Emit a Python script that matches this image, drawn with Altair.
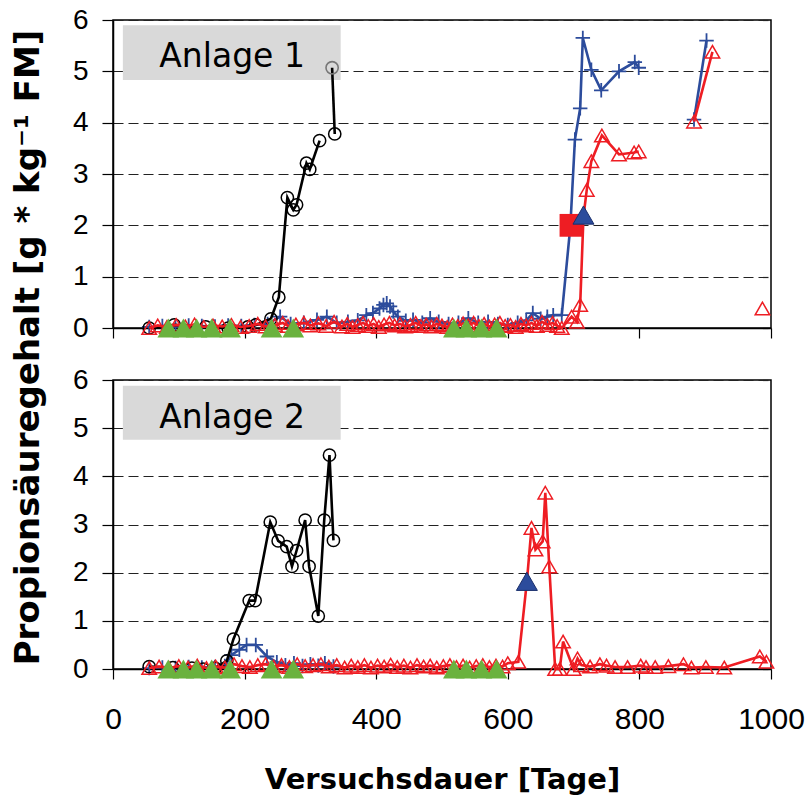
import altair as alt
import pandas as pd

# ---------------- data ----------------
X_TICKS = [0, 200, 400, 600, 800, 1000]
Y_TICKS = [0, 1, 2, 3, 4, 5, 6]
X_DOMAIN = [0, 1000]
Y_DOMAIN = [0, 6]

PANEL_NAMES = ["Anlage 1", "Anlage 2"]
LABEL_BOX_X = [15, 346]
LABEL_BOX_Y = {"Anlage 1": [4.83, 5.9], "Anlage 2": [4.76, 5.88]}
LABEL_TEXT_POS = {"Anlage 1": [181, 5.09], "Anlage 2": [181, 5.01]}

GREEN_DAYS = [84, 107, 127, 150, 178, 241, 274, 518, 537, 560, 583]

# Anlage 1
A1_BLACK = [(55, 0.0), (93, 0.06), (141, 0.02), (175, 0.0), (205, 0.02), (217, 0.06),
            (240, 0.18), (252, 0.6), (265, 2.54), (274, 2.30), (279, 2.40), (294, 3.21),
            (299, 3.09), (314, 3.65), (337, 3.78)]
A1_BLACK_BREAKS = [320]
A1_GREY_CIRCLE = [(333, 5.07)]
A1_BLUE = [(55, 0.02), (75, 0.04), (95, 0.03), (115, 0.05), (135, 0.04), (155, 0.03),
           (175, 0.05), (195, 0.04), (215, 0.06), (235, 0.08), (254, 0.22), (270, 0.08),
           (290, 0.1), (310, 0.16), (325, 0.22), (340, 0.1), (357, 0.12), (372, 0.15),
           (385, 0.25), (395, 0.29), (405, 0.38), (411, 0.45), (416, 0.48), (421, 0.42),
           (426, 0.32), (433, 0.22), (445, 0.14), (456, 0.16), (470, 0.1), (482, 0.19),
           (495, 0.12), (510, 0.08), (525, 0.1), (540, 0.19), (555, 0.1), (570, 0.12),
           (585, 0.08), (600, 0.06), (615, 0.1), (628, 0.15), (638, 0.29), (650, 0.18),
           (660, 0.22), (669, 0.25), (682, 0.25), (695, 1.97), (702, 3.67), (710, 4.28),
           (714, 5.65), (727, 5.03), (742, 4.63), (769, 5.0), (793, 5.18), (799, 5.07),
           (883, 4.06), (902, 5.6)]
A1_RED = [(55, 0.0), (68, 0.05), (82, 0.02), (96, 0.06), (110, 0.03), (124, 0.07), (138, 0.02),
          (152, 0.05), (166, 0.03), (180, 0.06), (194, 0.02), (207, 0.04), (220, 0.08),
          (232, 0.03), (246, 0.06), (258, 0.1), (266, 0.04), (278, 0.07), (290, 0.1),
          (300, 0.05), (312, 0.09), (324, 0.04), (336, 0.12), (348, 0.03), (356, 0.08),
          (364, 0.02), (372, 0.06), (380, 0.1), (388, 0.04), (396, 0.08), (404, 0.02),
          (412, 0.07), (420, 0.1), (428, 0.05), (436, 0.08), (444, 0.03), (452, 0.06),
          (460, 0.1), (468, 0.04), (476, 0.07), (484, 0.03), (492, 0.08), (500, 0.05),
          (508, 0.02), (516, 0.07), (524, 0.04), (532, 0.09), (540, 0.05), (548, 0.1),
          (556, 0.04), (564, 0.08), (572, 0.03), (580, 0.07), (588, 0.1), (596, 0.04),
          (604, 0.06), (612, 0.02), (620, 0.08), (628, 0.05), (636, 0.1), (644, 0.04),
          (652, 0.12), (660, 0.06), (668, 0.1), (675, 0.04), (682, 0.0), (697, 0.22),
          (705, 0.12), (710, 0.45), (715, 2.17), (720, 2.69), (727, 3.25), (743, 3.75),
          (769, 3.38), (792, 3.42), (799, 3.44), (883, 4.02), (911, 5.38), (987, 0.38)]
A1_BREAKS = [850, 950]
A1_SQUARE = [(696, 2.0)]
A1_EVENT = [(715, 2.2)]

# Anlage 2
A2_BLACK = [(55, 0.05), (91, 0.03), (120, 0.02), (137, 0.0), (155, 0.02), (173, 0.17),
            (183, 0.62), (207, 1.42), (216, 1.42), (239, 3.05), (251, 2.66), (264, 2.54),
            (272, 2.13), (279, 2.46), (292, 3.09), (298, 2.13), (312, 1.1), (321, 3.09),
            (329, 4.44), (335, 2.67)]
A2_BLUE = [(55, 0.02), (75, 0.03), (95, 0.02), (115, 0.04), (135, 0.03), (155, 0.04),
           (170, 0.06), (180, 0.29), (192, 0.4), (203, 0.5), (217, 0.5), (234, 0.26),
           (249, 0.14), (262, 0.08), (275, 0.12), (288, 0.06), (300, 0.1), (312, 0.07),
           (322, 0.12), (335, 0.05)]
A2_RED = [(55, 0.02), (70, 0.05), (85, 0.02), (100, 0.06), (114, 0.03), (128, 0.07), (142, 0.02),
          (156, 0.05), (170, 0.03), (184, 0.1), (196, 0.06), (208, 0.04), (220, 0.08),
          (232, 0.1), (244, 0.05), (256, 0.08), (268, 0.04), (280, 0.1), (292, 0.06),
          (304, 0.08), (316, 0.1), (328, 0.05), (340, 0.08), (352, 0.03), (362, 0.07),
          (372, 0.04), (382, 0.08), (392, 0.03), (402, 0.07), (412, 0.05), (422, 0.09),
          (432, 0.04), (442, 0.07), (452, 0.03), (462, 0.08), (472, 0.05), (482, 0.07),
          (492, 0.03), (502, 0.06), (512, 0.08), (522, 0.04), (532, 0.07), (542, 0.03),
          (552, 0.06), (562, 0.08), (572, 0.04), (582, 0.07), (592, 0.05), (600, 0.12),
          (616, 0.15), (629, 1.82), (636, 2.93), (642, 2.48), (653, 2.65), (657, 3.66),
          (663, 2.13), (672, 0.0), (679, 0.0), (684, 0.57), (700, 0.0), (706, 0.22),
          (712, 0.08), (725, 0.05), (740, 0.1), (750, 0.07), (763, 0.04), (782, 0.04),
          (802, 0.07), (810, 0.04), (824, 0.04), (844, 0.06), (867, 0.1), (879, 0.03),
          (901, 0.04), (929, 0.03), (983, 0.26), (993, 0.15)]
A2_EVENT = [(629, 1.82)]

# ---------------- styles ----------------
RED = "#ee1d23"
BLUE = "#2c4c9c"
GREEN = "#6ab23e"
BOX = "#d9d9d9"
Y_TITLE = "Propionsäuregehalt [g * kg⁻¹ FM]"
X_TITLE = "Versuchsdauer [Tage]"
PLUS = "M-1,0H1M0,-1V1"


def to_df(pairs, breaks=()):
    return pd.DataFrame({
        "day": [p[0] for p in pairs],
        "val": [p[1] for p in pairs],
        "seg": [sum(1 for b in breaks if p[0] > b) for p in pairs],
    })


def panel(name, black, black_breaks, greys, blue, red, breaks, squares, events,
          height, bottom):
    xkw = dict(values=X_TICKS, ticks=True, tickSize=10, tickColor="black",
               tickWidth=1.2, domainColor="black", domainWidth=1.5, grid=False,
               labelFlush=False, labelOverlap=False, format="d")
    if bottom:
        xkw.update(labels=True, labelFont="Liberation Sans", labelFontSize=30,
                   labelColor="black", labelBaseline="alphabetic", labelPadding=49,
                   title=X_TITLE, titleFont="DejaVu Sans", titleFontWeight="bold",
                   titleFontSize=29, titleColor="black", titleBaseline="alphabetic",
                   titleY=119)
    else:
        xkw.update(labels=False, title=None)
    xax = alt.Axis(**xkw)

    ykw = dict(values=Y_TICKS, ticks=True, tickSize=11, tickColor="black",
               tickWidth=1.2, domainColor="black", domainWidth=1.5, grid=True,
               gridDash=[10, 5], gridColor="#222222", gridWidth=1.2,
               labelFont="Liberation Sans", labelFontSize=28, labelColor="black",
               labelPadding=14, labelFlush=False, labelOverlap=False)
    if not bottom:
        ykw.update(title=Y_TITLE, titleFont="DejaVu Sans", titleFontWeight="bold",
                   titleFontSize=34, titleColor="black", titleAngle=270,
                   titleAlign="center", titleBaseline="middle", titleX=-85, titleY=327)
    else:
        ykw.update(title=None)
    yax = alt.Axis(**ykw)

    xs = alt.Scale(domain=X_DOMAIN, nice=False, zero=False)
    ys = alt.Scale(domain=Y_DOMAIN, nice=False)

    def enc(ch):
        return ch.encode(x=alt.X("day:Q", scale=xs, axis=xax),
                         y=alt.Y("val:Q", scale=ys, axis=yax))

    box_df = pd.DataFrame({"x1": [LABEL_BOX_X[0]], "x2": [LABEL_BOX_X[1]],
                           "y1": [LABEL_BOX_Y[name][0]], "y2": [LABEL_BOX_Y[name][1]]})
    txt_df = pd.DataFrame({"day": [LABEL_TEXT_POS[name][0]],
                           "val": [LABEL_TEXT_POS[name][1]], "t": [name]})

    box = alt.Chart(box_df).mark_rect(color=BOX).encode(
        x=alt.X("x1:Q", scale=xs, axis=xax), x2="x2:Q",
        y=alt.Y("y1:Q", scale=ys, axis=yax), y2="y2:Q")
    txt = enc(alt.Chart(txt_df).mark_text(font="DejaVu Sans", fontSize=33,
                                          color="black", baseline="alphabetic",
                                          align="center")).encode(text="t:N")

    # the grey circle belongs to the black series' second segment line
    line_black = to_df(sorted(list(black) + list(greys)), black_breaks)
    bl = to_df(black, black_breaks)
    bu = to_df(blue, breaks)
    rd = to_df(red, breaks)
    gr = pd.DataFrame({"day": GREEN_DAYS, "val": [0.0] * len(GREEN_DAYS)})

    layers = [box, txt]
    layers.append(enc(alt.Chart(bu).mark_line(color=BLUE, strokeWidth=2.6)).encode(detail="seg:N"))
    layers.append(enc(alt.Chart(bu).mark_point(shape=PLUS, filled=False, color=BLUE,
                                               size=210, strokeWidth=1.8, opacity=1)))
    layers.append(enc(alt.Chart(line_black).mark_line(color="black", strokeWidth=2.6)).encode(detail="seg:N"))
    layers.append(enc(alt.Chart(bl).mark_point(shape="circle", filled=False, color="black",
                                               size=150, strokeWidth=1.5, opacity=1)))
    if greys:
        layers.append(enc(alt.Chart(to_df(greys)).mark_point(
            shape="circle", filled=False, color="#777777",
            size=150, strokeWidth=1.6, opacity=1)))
    layers.append(enc(alt.Chart(rd).mark_line(color=RED, strokeWidth=2.6)).encode(detail="seg:N"))
    layers.append(enc(alt.Chart(rd).mark_point(shape="triangle-up", filled=False, color=RED,
                                               size=210, strokeWidth=1.5, opacity=1)))
    layers.append(enc(alt.Chart(gr).mark_point(shape="triangle-up", filled=True, color=GREEN,
                                               size=470, opacity=1)))
    if squares:
        layers.append(enc(alt.Chart(to_df(squares)).mark_point(
            shape="square", filled=True, color=RED, size=520, opacity=1)))
    if events:
        layers.append(enc(alt.Chart(to_df(events)).mark_point(
            shape="triangle-up", filled=True, fill=BLUE, stroke="#1a2f6b",
            strokeWidth=1, size=440, opacity=1)))

    return alt.layer(*layers).properties(width=658, height=height)


top = panel("Anlage 1", A1_BLACK, A1_BLACK_BREAKS, A1_GREY_CIRCLE, A1_BLUE, A1_RED,
            A1_BREAKS, A1_SQUARE, A1_EVENT, 308, False)
bottom = panel("Anlage 2", A2_BLACK, [], [], A2_BLUE, A2_RED, [], [], A2_EVENT, 289, True)

chart = alt.vconcat(top, bottom, spacing=52, bounds="flush").properties(
    autosize=alt.AutoSizeParams(type="none"),
    padding={"left": 113, "top": 20, "right": 37, "bottom": 776},
    background="white",
).configure_view(stroke="black", strokeWidth=1.5)

chart.save("out.html", embed_options={"renderer": "svg", "actions": False})
